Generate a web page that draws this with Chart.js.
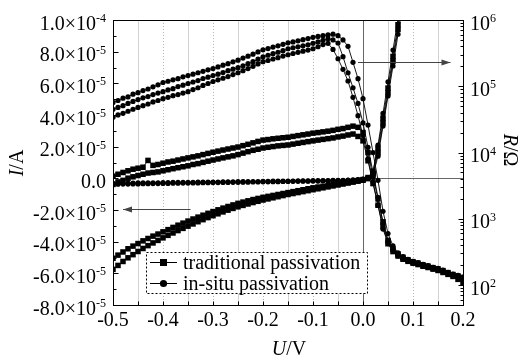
<!DOCTYPE html>
<html>
<head>
<meta charset="utf-8">
<script src="https://cdn.jsdelivr.net/npm/chart.js@4.4.1/dist/chart.umd.min.js"></script>
<style>
  html, body { margin: 0; padding: 0; background: #fff; }
  canvas { display: block; }
</style>
</head>
<body>
<canvas id="chart" width="519" height="358"></canvas>
<script>
// bias voltage U (V)
const voltage = [-0.50,-0.49,-0.48,-0.47,-0.46,-0.45,-0.44,-0.43,-0.42,-0.41,
  -0.40,-0.39,-0.38,-0.37,-0.36,-0.35,-0.34,-0.33,-0.32,-0.31,
  -0.30,-0.29,-0.28,-0.27,-0.26,-0.25,-0.24,-0.23,-0.22,-0.21,
  -0.20,-0.19,-0.18,-0.17,-0.16,-0.15,-0.14,-0.13,-0.12,-0.11,
  -0.10,-0.09,-0.08,-0.07,-0.06,-0.05,-0.04,-0.03,-0.02,-0.01,
  0.00,0.01,0.02,0.03,0.04,0.05,0.06,0.07,0.08,0.09,
  0.10,0.11,0.12,0.13,0.14,0.15,0.16,0.17,0.18,0.19,0.20];

const sampleNames = ['traditional passivation', 'in-situ passivation'];

// current I, in units of 1e-5 A (runs up to 0.08 V, above that it is off the axis)
const tradI1 = [-5.05,-4.85,-4.65,-4.45,-4.28,-4.12,-3.95,-3.80,-3.65,-3.52,
  -3.38,-3.24,-3.10,-2.96,-2.83,-2.70,-2.57,-2.45,-2.33,-2.21,
  -2.10,-1.99,-1.88,-1.78,-1.68,-1.58,-1.50,-1.42,-1.34,-1.27,
  -1.20,-1.14,-1.08,-1.02,-0.96,-0.90,-0.84,-0.78,-0.72,-0.66,
  -0.60,-0.55,-0.50,-0.45,-0.40,-0.35,-0.30,-0.25,-0.20,-0.14,
  -0.08,0.05,0.45,1.9,3.8,5.7,7.7,9.7,11.8];
const tradI2 = [-5.75,-5.50,-5.25,-5.02,-4.82,-4.62,-4.43,-4.25,-4.08,-3.92,
  -3.76,-3.60,-3.45,-3.30,-3.16,-3.02,-2.88,-2.74,-2.61,-2.48,
  -2.36,-2.24,-2.12,-2.01,-1.90,-1.80,-1.71,-1.62,-1.53,-1.45,
  -1.37,-1.30,-1.23,-1.16,-1.09,-1.02,-0.96,-0.90,-0.84,-0.78,
  -0.72,-0.66,-0.60,-0.54,-0.48,-0.42,-0.36,-0.30,-0.24,-0.18,
  -0.12,-0.02,0.30,1.6,3.5,5.4,7.4,9.4,11.5];
const insituI1 = [-0.32,-0.31,-0.31,-0.30,-0.30,-0.29,-0.29,-0.28,-0.28,-0.28,
  -0.27,-0.27,-0.26,-0.26,-0.26,-0.25,-0.25,-0.24,-0.24,-0.24,
  -0.23,-0.23,-0.22,-0.22,-0.22,-0.21,-0.21,-0.20,-0.20,-0.20,
  -0.19,-0.19,-0.18,-0.18,-0.18,-0.17,-0.17,-0.16,-0.16,-0.16,
  -0.15,-0.15,-0.14,-0.14,-0.13,-0.13,-0.12,-0.11,-0.10,-0.08,
  -0.05,0.05,0.40,2.1,4.1,6.1,8.1,10.1,12.2];
const insituI2 = [-0.38,-0.37,-0.36,-0.36,-0.35,-0.35,-0.34,-0.34,-0.33,-0.33,
  -0.32,-0.32,-0.31,-0.31,-0.30,-0.30,-0.29,-0.29,-0.28,-0.28,
  -0.27,-0.27,-0.26,-0.26,-0.25,-0.25,-0.24,-0.24,-0.23,-0.23,
  -0.22,-0.22,-0.21,-0.21,-0.20,-0.20,-0.19,-0.19,-0.18,-0.18,
  -0.17,-0.17,-0.16,-0.16,-0.15,-0.15,-0.14,-0.13,-0.12,-0.10,
  -0.07,0.00,0.20,1.4,3.3,5.2,7.1,9.1,11.1];

// resistance R (ohm)
const tradR1 = [4.4e3,4.7e3,5.0e3,5.3e3,5.6e3,5.8e3,6.0e3,7.6e3,6.4e3,6.6e3,
  6.9e3,7.2e3,7.4e3,7.7e3,8.0e3,8.3e3,8.6e3,8.9e3,9.3e3,9.7e3,
  1.01e4,1.05e4,1.09e4,1.13e4,1.17e4,1.21e4,1.27e4,1.33e4,1.40e4,1.47e4,
  1.54e4,1.57e4,1.61e4,1.64e4,1.67e4,1.70e4,1.75e4,1.80e4,1.85e4,1.90e4,
  1.96e4,2.00e4,2.05e4,2.10e4,2.16e4,2.24e4,2.30e4,2.40e4,2.50e4,2.40e4,
  2.0e4,1.0e4,4.3e3,2.0e3,900,470,350,295,262,240,
  225,214,202,193,183,175,165,154,144,137,130];
const tradR2 = [3.3e3,3.6e3,3.8e3,4.1e3,4.3e3,4.5e3,4.7e3,4.9e3,5.0e3,5.1e3,
  5.3e3,5.5e3,5.7e3,5.9e3,6.1e3,6.3e3,6.6e3,6.8e3,7.1e3,7.4e3,
  7.7e3,8.0e3,8.3e3,8.6e3,8.9e3,9.3e3,9.8e3,1.03e4,1.08e4,1.12e4,
  1.17e4,1.20e4,1.23e4,1.26e4,1.28e4,1.30e4,1.34e4,1.38e4,1.42e4,1.46e4,
  1.50e4,1.54e4,1.58e4,1.62e4,1.66e4,1.72e4,1.77e4,1.84e4,1.90e4,1.75e4,
  1.50e4,7.5e3,3.4e3,1.6e3,760,420,320,275,245,228,
  214,204,192,184,174,166,155,145,135,122,108];
const insituR1 = [5.7e4,6.1e4,6.6e4,6.9e4,7.6e4,8.0e4,8.6e4,9.1e4,9.8e4,1.05e5,
  1.14e5,1.19e5,1.25e5,1.30e5,1.39e5,1.45e5,1.52e5,1.60e5,1.68e5,1.77e5,
  1.85e5,1.96e5,2.08e5,2.19e5,2.34e5,2.48e5,2.66e5,2.84e5,3.05e5,3.30e5,
  3.55e5,3.70e5,3.90e5,4.08e5,4.30e5,4.53e5,4.66e5,4.85e5,5.05e5,5.25e5,
  5.47e5,5.65e5,5.80e5,5.96e5,6.10e5,5.80e5,5.00e5,4.00e5,2.30e5,1.30e5,
  6.5e4,2.6e4,1.0e4,3.8e3,1.3e3,600,390,305,268,245,
  228,218,205,196,185,178,168,156,146,140,132];
const insituR2 = [4.5e4,4.8e4,5.1e4,5.5e4,5.9e4,6.3e4,6.7e4,7.0e4,7.5e4,7.9e4,
  8.3e4,8.8e4,9.2e4,9.9e4,1.04e5,1.10e5,1.16e5,1.22e5,1.31e5,1.37e5,
  1.45e5,1.52e5,1.61e5,1.72e5,1.81e5,1.91e5,2.04e5,2.19e5,2.35e5,2.56e5,
  2.79e5,2.94e5,3.10e5,3.26e5,3.44e5,3.68e5,3.81e5,3.94e5,4.08e5,4.23e5,
  4.44e5,4.66e5,4.93e5,5.20e5,5.00e5,4.50e5,2.80e5,1.60e5,9.5e4,5.5e4,
  2.8e4,1.2e4,5.0e3,2.1e3,850,470,350,290,252,236,
  220,212,198,191,179,173,161,150,140,136,126];
const insituR3 = [3.4e4,3.7e4,3.9e4,4.2e4,4.5e4,4.8e4,5.1e4,5.4e4,5.8e4,6.1e4,
  6.5e4,6.8e4,7.2e4,7.5e4,7.9e4,8.3e4,8.9e4,9.5e4,1.03e5,1.10e5,
  1.18e5,1.25e5,1.32e5,1.40e5,1.50e5,1.60e5,1.72e5,1.85e5,2.00e5,2.17e5,
  2.35e5,2.45e5,2.58e5,2.70e5,2.85e5,2.99e5,3.12e5,3.25e5,3.38e5,3.52e5,
  3.68e5,3.95e5,4.25e5,4.45e5,3.60e5,2.60e5,1.80e5,1.20e5,6.8e4,3.6e4,
  1.8e4,8.0e3,3.6e3,1.6e3,700,430,330,275,245,230,
  215,205,195,186,176,170,158,148,138,132,122];

// axis ticks
const xTicks = [-0.5, -0.4, -0.3, -0.2, -0.1, 0.0, 0.1, 0.2];
const xTickLabels = ['-0.5', '-0.4', '-0.3', '-0.2', '-0.1', '0.0', '0.1', '0.2'];
const iTicks = [-8, -6, -4, -2, 0, 2, 4, 6, 8, 10];
const iTickLabels = [['-8.0\u00d710', '-5'], ['-6.0\u00d710', '-5'], ['-4.0\u00d710', '-5'], ['-2.0\u00d710', '-5'],
  ['0.0', ''], ['2.0\u00d710', '-5'], ['4.0\u00d710', '-5'], ['6.0\u00d710', '-5'], ['8.0\u00d710', '-5'], ['1.0\u00d710', '-4']];
const rTicks = [1e2, 1e3, 1e4, 1e5, 1e6];
const rTickLabels = [['10', '2'], ['10', '3'], ['10', '4'], ['10', '5'], ['10', '6']];

const FONT = '"Liberation Serif", "Times New Roman", serif';

function pts(ys) {
  return ys.map((y, i) => ({ x: voltage[i], y: y }));
}

function series(label, ys, axis, style) {
  return {
    label: label,
    data: pts(ys),
    yAxisID: axis,
    borderColor: '#000',
    backgroundColor: '#000',
    borderWidth: 0.9,
    pointStyle: style,
    pointRadius: style === 'rect' ? 3.9 : 2.6,
    pointBorderWidth: 0,
    pointHoverRadius: 0,
    tension: 0
  };
}

// text made of plain / italic pieces, centred on (0,0) of current transform
function richText(ctx, parts, size, baseline) {
  let total = 0;
  parts.forEach(p => {
    ctx.font = (p.it ? 'italic ' : '') + size + 'px ' + FONT;
    p.w = ctx.measureText(p.t).width;
    total += p.w;
  });
  let x = -total / 2;
  parts.forEach(p => {
    ctx.font = (p.it ? 'italic ' : '') + size + 'px ' + FONT;
    ctx.fillText(p.t, x, baseline);
    x += p.w;
  });
}

function arrow(ctx, x1, y1, x2, y2) {
  ctx.beginPath();
  ctx.moveTo(x1, y1);
  ctx.lineTo(x2, y2);
  ctx.stroke();
  const a = Math.atan2(y2 - y1, x2 - x1);
  ctx.beginPath();
  ctx.moveTo(x2, y2);
  ctx.lineTo(x2 - 9 * Math.cos(a) + 3 * Math.sin(a), y2 - 9 * Math.sin(a) - 3 * Math.cos(a));
  ctx.lineTo(x2 - 9 * Math.cos(a) - 3 * Math.sin(a), y2 - 9 * Math.sin(a) + 3 * Math.cos(a));
  ctx.closePath();
  ctx.fill();
}

const decoPlugin = {
  id: 'deco',
  beforeDatasetsDraw(chart) {
    const ctx = chart.ctx, a = chart.chartArea;
    const x = chart.scales.x, yI = chart.scales.yI;
    ctx.save();
    // vertical grid every 0.05 V
    for (let k = 1; k < 14; k++) {
      const v = -0.5 + k * 0.05;
      if (Math.abs(v) < 1e-9) continue;
      const px = Math.round(x.getPixelForValue(v)) + 0.5;
      const major = k % 2 === 0;
      ctx.strokeStyle = major ? '#b4b4b4' : '#d2d2d2';
      ctx.lineWidth = 1;
      ctx.setLineDash(major ? [1, 2] : []);
      ctx.beginPath();
      ctx.moveTo(px, a.top);
      ctx.lineTo(px, a.bottom);
      ctx.stroke();
    }
    ctx.setLineDash([]);
    // U = 0 and I = 0 lines
    ctx.strokeStyle = '#666';
    const x0 = Math.round(x.getPixelForValue(0)) + 0.5;
    const y0 = Math.round(yI.getPixelForValue(0)) + 0.5;
    ctx.beginPath();
    ctx.moveTo(x0, a.top);
    ctx.lineTo(x0, a.bottom);
    ctx.moveTo(x0, y0);
    ctx.lineTo(a.right, y0);
    ctx.stroke();
    ctx.restore();
  },
  afterDatasetsDraw(chart) {
    const ctx = chart.ctx, a = chart.chartArea;
    const x = chart.scales.x, yI = chart.scales.yI, yR = chart.scales.yR;
    const L = Math.round(a.left) + 0.5, R = Math.round(a.right) + 0.5;
    const T = Math.round(a.top) + 0.5, B = Math.round(a.bottom) + 0.5;
    ctx.save();
    ctx.strokeStyle = '#000';
    ctx.fillStyle = '#000';
    ctx.lineWidth = 1;
    ctx.strokeRect(L, T, R - L, B - T);

    ctx.beginPath();
    // bottom ticks (inward)
    for (let k = 1; k < 14; k++) {
      const px = Math.round(x.getPixelForValue(-0.5 + k * 0.05)) + 0.5;
      ctx.moveTo(px, B);
      ctx.lineTo(px, B - 4);
    }
    // left ticks
    for (let v = -7; v <= 9; v++) {
      const py = Math.round(yI.getPixelForValue(v)) + 0.5;
      ctx.moveTo(L, py);
      ctx.lineTo(L + (v % 2 === 0 ? 5 : 3), py);
    }
    // right log ticks
    for (let d = 1; d <= 5; d++) {
      for (let m = 1; m <= 9; m++) {
        const v = m * Math.pow(10, d);
        if (v < yR.min || v > yR.max) continue;
        const py = Math.round(yR.getPixelForValue(v)) + 0.5;
        ctx.moveTo(R, py);
        ctx.lineTo(R - (m === 1 ? 5 : 3), py);
      }
    }
    ctx.stroke();

    // tick labels
    ctx.textBaseline = 'alphabetic';
    ctx.font = '20px ' + FONT;
    ctx.textAlign = 'center';
    xTicks.forEach((v, i) => {
      ctx.fillText(xTickLabels[i], x.getPixelForValue(v), a.bottom + 21);
    });
    ctx.textAlign = 'left';
    iTicks.forEach((v, i) => {
      const py = yI.getPixelForValue(v);
      const [main, sup] = iTickLabels[i];
      ctx.font = '20px ' + FONT;
      const w1 = ctx.measureText(main).width;
      ctx.font = '12px ' + FONT;
      const w2 = sup ? ctx.measureText(sup).width : 0;
      const right = a.left - 7;
      ctx.font = '20px ' + FONT;
      ctx.fillText(main, right - w1 - w2, py + 9.5);
      if (sup) {
        ctx.font = '12px ' + FONT;
        ctx.fillText(sup, right - w2, py + 2);
      }
    });
    rTicks.forEach((v, i) => {
      const py = yR.getPixelForValue(v);
      const [main, sup] = rTickLabels[i];
      ctx.font = '20px ' + FONT;
      const w1 = ctx.measureText(main).width;
      ctx.fillText(main, a.right + 7, py + 9.5);
      ctx.font = '12px ' + FONT;
      ctx.fillText(sup, a.right + 7 + w1, py + 2);
    });

    // axis titles
    ctx.textAlign = 'left';
    ctx.save();
    ctx.translate(23, 163);
    ctx.rotate(-Math.PI / 2);
    richText(ctx, [{ t: 'I', it: true }, { t: '/A' }], 20, 0);
    ctx.restore();
    ctx.save();
    ctx.translate(289, 355);
    richText(ctx, [{ t: 'U', it: true }, { t: '/V' }], 20, 0);
    ctx.restore();
    ctx.save();
    ctx.translate(504, 150);
    ctx.rotate(Math.PI / 2);
    richText(ctx, [{ t: 'R', it: true }, { t: '/\u03a9' }], 20, 0);
    ctx.restore();

    // arrows pointing to the axis of each group of curves
    ctx.strokeStyle = '#444';
    ctx.fillStyle = '#444';
    const ya = Math.round(yR.getPixelForValue(2.3e5)) + 0.5;
    arrow(ctx, x.getPixelForValue(-0.01), ya, x.getPixelForValue(0.175), ya);
    const yb = Math.round(yI.getPixelForValue(-1.95)) + 0.5;
    arrow(ctx, x.getPixelForValue(-0.345), yb, x.getPixelForValue(-0.48), yb);

    // legend
    ctx.fillStyle = '#fff';
    ctx.fillRect(146.5, 252.5, 221, 41);
    ctx.strokeStyle = '#000';
    ctx.setLineDash([2, 2]);
    ctx.strokeRect(146.5, 252.5, 221, 41);
    ctx.setLineDash([]);
    ctx.fillStyle = '#000';
    [262.5, 283.5].forEach((ly, i) => {
      ctx.beginPath();
      ctx.moveTo(150, ly);
      ctx.lineTo(177, ly);
      ctx.stroke();
      if (i === 0) {
        ctx.fillRect(160, ly - 3.5, 7, 7);
      } else {
        ctx.beginPath();
        ctx.arc(163.5, ly, 3.6, 0, Math.PI * 2);
        ctx.fill();
      }
      ctx.font = '20px ' + FONT;
      ctx.textAlign = 'left';
      ctx.fillText(sampleNames[i], 183, ly + 6.5);
    });
    ctx.restore();
  }
};

new Chart(document.getElementById('chart').getContext('2d'), {
  type: 'line',
  data: {
    datasets: [
      series(sampleNames[0] + ' R1', tradR1, 'yR', 'rect'),
      series(sampleNames[0] + ' R2', tradR2, 'yR', 'rect'),
      series(sampleNames[1] + ' R1', insituR1, 'yR', 'circle'),
      series(sampleNames[1] + ' R2', insituR2, 'yR', 'circle'),
      series(sampleNames[1] + ' R3', insituR3, 'yR', 'circle'),
      series(sampleNames[0] + ' I1', tradI1, 'yI', 'rect'),
      series(sampleNames[0] + ' I2', tradI2, 'yI', 'rect'),
      series(sampleNames[1] + ' I1', insituI1, 'yI', 'circle'),
      series(sampleNames[1] + ' I2', insituI2, 'yI', 'circle')
    ]
  },
  options: {
    responsive: false,
    animation: false,
    devicePixelRatio: 1,
    layout: { padding: { left: 113, top: 20, right: 56, bottom: 53 } },
    plugins: {
      legend: { display: false },
      tooltip: { enabled: false },
      title: { display: false }
    },
    scales: {
      x: { type: 'linear', min: -0.5, max: 0.2, display: false },
      yI: { type: 'linear', position: 'left', min: -8, max: 10, display: false },
      yR: { type: 'logarithmic', position: 'right', min: 50, max: 1e6, display: false }
    }
  },
  plugins: [decoPlugin]
});
</script>
</body>
</html>
